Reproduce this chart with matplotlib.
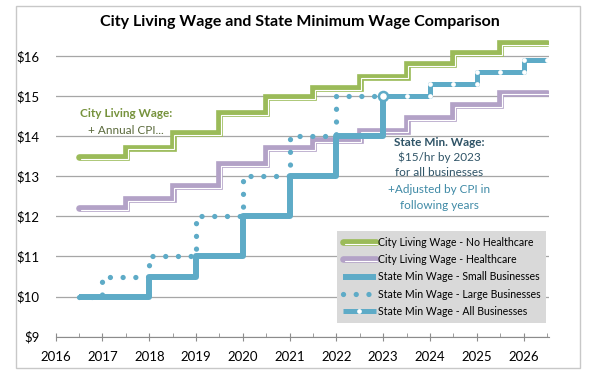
import matplotlib
matplotlib.use('Agg')
import matplotlib.pyplot as plt
import matplotlib.patheffects as pe
from matplotlib.patches import Rectangle
from matplotlib.ticker import MultipleLocator

plt.rcParams['font.family'] = ['Lato', 'DejaVu Sans']

# City living wage, step starts every July
city_years = [2016.5, 2017.5, 2018.5, 2019.5, 2020.5, 2021.5, 2022.5, 2023.5, 2024.5, 2025.5, 2026.5]
city_no_hc = [13.47, 13.71, 14.07, 14.57, 14.96, 15.19, 15.48, 15.79, 16.06, 16.32]
city_hc = [12.20, 12.42, 12.75, 13.30, 13.69, 13.90, 14.13, 14.45, 14.77, 15.08]

# state minimum wage
small_years = [2016.5, 2018, 2019, 2020, 2021, 2022, 2023]
small_wage = [10, 10.5, 11, 12, 13, 14, 15]
large_years = [2016.5, 2017, 2018, 2019, 2020, 2021, 2022, 2023]
large_wage = [10, 10.5, 11, 12, 13, 14, 15, 15]
all_years = [2023, 2023.5, 2024, 2024, 2024.5, 2025, 2025, 2025.5, 2026, 2026, 2026.5]
all_wage = [15, 15, 15, 15.29, 15.29, 15.29, 15.6, 15.6, 15.6, 15.89, 15.89]

yticks = [9, 10, 11, 12, 13, 14, 15, 16]
xticks = list(range(2016, 2027))

green = '#9bbb59'
purple = '#b3a2c7'
blue = '#5eabc7'

fig = plt.figure(figsize=(6, 3.8), dpi=100)
fig.patches.append(Rectangle((0.0267, 0.0316), 0.94, 0.9524, transform=fig.transFigure,
                             fill=False, edgecolor='#c8c8c8', lw=1))
ax = fig.add_axes([0.0928, 0.1139, 0.8227, 0.7922])


def double(color):
    return [pe.Normal(), pe.Stroke(linewidth=0.8, foreground='white', offset=(1.2, -1.2))]


ax.plot(city_years, city_hc + city_hc[-1:], drawstyle='steps-post', color=purple, lw=4.8,
        solid_capstyle='round', solid_joinstyle='miter', path_effects=double(purple),
        label='City Living Wage - Healthcare', zorder=3)
ax.plot(city_years, city_no_hc + city_no_hc[-1:], drawstyle='steps-post', color=green, lw=4.8,
        solid_capstyle='round', solid_joinstyle='miter', path_effects=double(green),
        label='City Living Wage - No Healthcare', zorder=3)

l_large, = ax.plot(large_years, large_wage, drawstyle='steps-post', color=blue, lw=3.8,
                   linestyle=(0, (0.01, 2.4)), dash_capstyle='round',
                   label='State Min Wage - Large Businesses', zorder=4)
l_small, = ax.plot(small_years, small_wage, drawstyle='steps-post', color=blue, lw=4.3,
                   solid_capstyle='butt', label='State Min Wage - Small Businesses', zorder=5)
l_all, = ax.plot(all_years, all_wage, color=blue, lw=3.6, marker='o', ms=3.4,
                 mfc='white', mec='white', mew=0, solid_capstyle='butt',
                 label='State Min Wage - All Businesses', zorder=5)
ax.plot(all_years[:1], all_wage[:1], marker='o', ms=6.5, mfc='white', mec=blue, mew=1.8,
        ls='none', zorder=6)

ax.set_xlim(2016, 2026.55)
ax.set_ylim(9, 16.5)
ax.set_xticks(xticks)
ax.xaxis.set_minor_locator(MultipleLocator(0.5))
ax.set_yticks(yticks)
ax.set_yticklabels(['$%d' % v for v in yticks])
ax.tick_params(axis='y', length=0, pad=11.5, labelsize=9.5)
ax.tick_params(axis='x', which='major', direction='inout', length=6, color='#8c8c8c',
               pad=7, labelsize=9.5)
ax.tick_params(axis='x', which='minor', direction='in', length=3, color='#8c8c8c')
ax.yaxis.grid(True, color='#a6a6a6', lw=0.9)
ax.set_axisbelow(True)
for s in ['left', 'right', 'top']:
    ax.spines[s].set_visible(False)
ax.spines['bottom'].set_color('#8c8c8c')

fig.text(0.5, 1 - 22 / 380, 'City Living Wage and State Minimum Wage Comparison',
         ha='center', va='center', fontsize=11.5, fontweight='bold')

ax.text(2017.5, 14.55, 'City Living Wage:', ha='center', va='center', fontsize=8.5,
        fontweight='bold', color='#76923c')
ax.text(2017.5, 14.13, '+ Annual CPI...', ha='center', va='center', fontsize=8.5,
        color='#5c6b3d')
ax.text(2024.2, 13.84, 'State Min. Wage:', ha='center', va='center', fontsize=8.5,
        fontweight='bold', color='#2f5467')
ax.text(2024.2, 13.47, '$15/hr by 2023', ha='center', va='center', fontsize=8.5,
        color='#2f5467')
ax.text(2024.2, 13.1, 'for all businesses', ha='center', va='center', fontsize=8.5,
        color='#2f5467')
ax.text(2024.2, 12.66, '+Adjusted by CPI in', ha='center', va='center', fontsize=8.5,
        color='#3f8aa6')
ax.text(2024.2, 12.28, 'following years', ha='center', va='center', fontsize=8.5,
        color='#3f8aa6')

handles, labels = ax.get_legend_handles_labels()
order = [1, 0, 3, 2, 4]
leg = ax.legend([handles[i] for i in order], [labels[i] for i in order],
                loc='upper left', bbox_to_anchor=(0.570, 0.352), borderaxespad=0,
                fontsize=7.6, handlelength=3.1, handletextpad=0.2, labelspacing=0.6,
                borderpad=0.55, numpoints=1, fancybox=False, framealpha=1,
                facecolor='#d9d9d9', edgecolor='none')
leg.set_zorder(10)

fig.savefig('out.png', dpi=100)
